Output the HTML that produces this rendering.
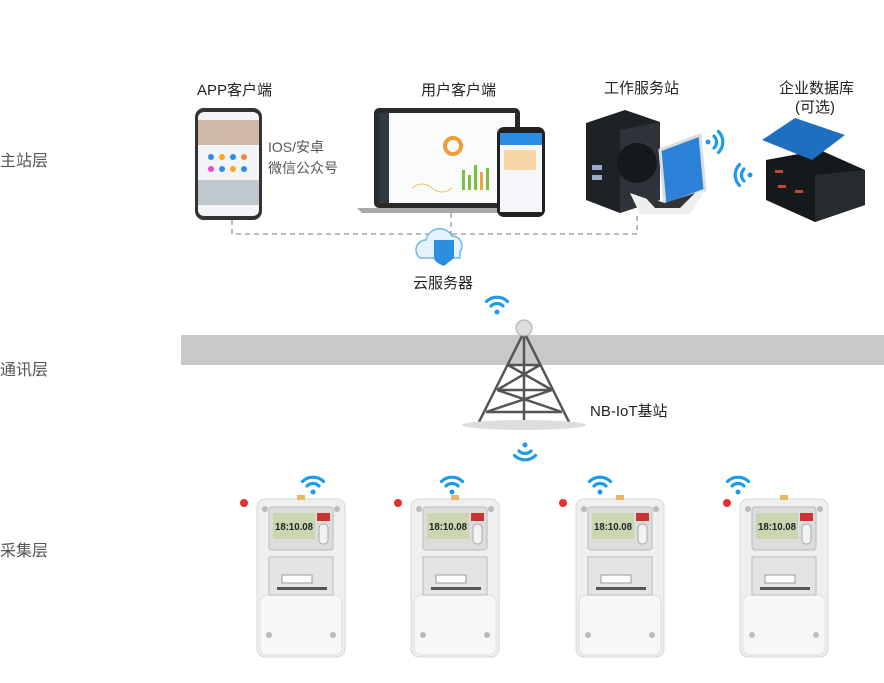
<!DOCTYPE html>
<html><head><meta charset="utf-8"><style>
body{margin:0;background:#fff;width:884px;height:683px;overflow:hidden;font-family:"Liberation Sans","Noto Sans CJK SC",sans-serif}
.t{position:absolute;font-size:15px;color:#222;white-space:nowrap}
.g{position:absolute;font-size:16px;color:#555;white-space:nowrap}
</style></head><body>
<svg width="884" height="683" style="position:absolute;left:0;top:0">
<defs>
<g id="wifi" fill="none" stroke="#1e9be8" stroke-width="3.2" stroke-linecap="round">
<circle cx="0" cy="0" r="2.5" fill="#1e9be8" stroke="none"/>
<path d="M-6,-6 A8.5,8.5 0 0 1 6,-6"/>
<path d="M-10.5,-10.5 A15,15 0 0 1 10.5,-10.5"/>
</g>
<g id="meter">
<rect x="0" y="4" width="88" height="158" rx="8" fill="#eef0f0" stroke="#d5d8d8"/>
<rect x="3" y="100" width="82" height="60" rx="7" fill="#f6f7f7" stroke="#dfe1e1"/>
<circle cx="-13" cy="8" r="4" fill="#e53030"/>
<circle cx="8" cy="14" r="3" fill="#bbb"/><circle cx="80" cy="14" r="3" fill="#bbb"/>
<rect x="40" y="0" width="8" height="5" fill="#e8b860"/>
<rect x="12" y="12" width="64" height="43" rx="3" fill="#dcdcdc" stroke="#bbb"/>
<rect x="16" y="18" width="42" height="26" fill="#c9d6b0"/>
<text x="18" y="35" font-family="Liberation Sans" font-size="10" font-weight="bold" fill="#222" textLength="38" lengthAdjust="spacingAndGlyphs">18:10.08</text>
<rect x="60" y="18" width="13" height="8" fill="#c33"/>
<rect x="62" y="29" width="9" height="20" rx="4" fill="#f2f2f2" stroke="#aaa"/>
<rect x="12" y="62" width="64" height="38" fill="#e3e5e5" stroke="#bbb"/>
<rect x="25" y="80" width="30" height="8" fill="#fff" stroke="#999"/>
<rect x="20" y="92" width="50" height="3" fill="#555"/>
<circle cx="12" cy="140" r="3" fill="#bbb"/><circle cx="76" cy="140" r="3" fill="#bbb"/>
</g>
</defs>
<rect x="181" y="335" width="703" height="30" fill="#c9c9c9"/>
<g stroke="#777" stroke-width="1" stroke-dasharray="5,4" fill="none">
<path d="M232,220 V234 H637 V213"/>
<path d="M451,213 V234"/>
</g>
<rect x="195" y="108" width="67" height="112" rx="9" fill="#333"/>
<rect x="198" y="112" width="61" height="104" rx="6" fill="#f2f4f7"/>
<rect x="198" y="120" width="61" height="25" fill="#cdb9a5"/>
<rect x="198" y="180" width="61" height="25" fill="#bfc7cf"/>
<g fill="#2b8fe8"><circle cx="211" cy="157" r="3"/><circle cx="222" cy="157" r="3" fill="#f5a623"/><circle cx="233" cy="157" r="3"/><circle cx="244" cy="157" r="3" fill="#e84"/><circle cx="211" cy="169" r="3" fill="#e4c"/><circle cx="222" cy="169" r="3"/><circle cx="233" cy="169" r="3" fill="#f5a623"/><circle cx="244" cy="169" r="3"/></g>
<rect x="374" y="108" width="146" height="100" rx="5" fill="#2a2a2a"/>
<rect x="379" y="113" width="136" height="90" fill="#fafbfc"/>
<rect x="379" y="113" width="10" height="90" fill="#2f3844"/>
<circle cx="453" cy="146" r="8" fill="none" stroke="#f39a3a" stroke-width="4"/>
<path d="M412,188 q10,-8 20,0 t20,0" stroke="#f2c14e" fill="none"/>
<g fill="#7bc043"><rect x="462" y="170" width="3" height="20"/><rect x="468" y="175" width="3" height="15"/><rect x="474" y="165" width="3" height="25"/><rect x="480" y="172" width="3" height="18" fill="#f2a23a"/><rect x="486" y="168" width="3" height="22"/></g>
<path d="M357,208 H525 L520,213 H362 Z" fill="#aaa"/>
<rect x="497" y="127" width="48" height="90" rx="7" fill="#222"/>
<rect x="500" y="133" width="42" height="79" fill="#f5f7fa"/>
<rect x="500" y="133" width="42" height="12" fill="#2a8ee6"/>
<rect x="504" y="150" width="32" height="20" fill="#f7d7a8"/>
<path d="M586,123 L625,110 L660,122 L660,200 L620,213 L586,200 Z" fill="#1d2226"/>
<path d="M620,130 L660,122 L660,200 L620,213 Z" fill="#2d3338"/>
<circle cx="637" cy="163" r="20" fill="#15191c"/>
<rect x="592" y="165" width="10" height="5" fill="#9ac"/><rect x="592" y="175" width="10" height="5" fill="#9ac"/>
<path d="M660,150 L700,135 L705,190 L665,205 Z" fill="#2b82d8" stroke="#ddd" stroke-width="3"/>
<path d="M630,193 L665,205 L705,190 L690,214 L640,214 Z" fill="#eee"/>
<path d="M645,197 L665,203 L695,193 L680,208 L655,208 Z" fill="#333"/>
<g transform="translate(708,142) rotate(90)"><use href="#wifi"/></g>
<g transform="translate(750,175) rotate(-90)"><use href="#wifi"/></g>
<path d="M766,160 L820,150 L865,170 L865,205 L815,222 L766,200 Z" fill="#15191c"/>
<path d="M815,175 L865,170 L865,205 L815,222 Z" fill="#262b2f"/>
<g fill="#c8492f"><rect x="775" y="170" width="8" height="3"/><rect x="778" y="185" width="8" height="3"/><rect x="795" y="190" width="8" height="3"/></g>
<path d="M762,140 L795,118 L845,135 L812,160 Z" fill="#1f6fc0"/>
<path d="M420,258 a10,10 0 0 1 6,-18 a14,14 0 0 1 26,-4 a10,10 0 0 1 8,16 v6 Z" fill="#e6f3fc" stroke="#6cb8ea" stroke-width="1.5"/>
<path d="M434,240 h20 v18 q-10,8 -10,8 q-10,-4 -10,-8 Z" fill="#2b8fe0"/>
<g stroke="#555" stroke-width="2.5" fill="none">
<path d="M524,332 L478,424 M524,332 L570,424 M524,332 L524,424"/>
<path d="M508,365 H540 M497,390 H552 M486,412 H562 M508,365 L552,390 M540,365 L497,390 M497,390 L562,412 M552,390 L486,412"/>
</g>
<ellipse cx="524" cy="425" rx="62" ry="5" fill="#ddd"/>
<circle cx="524" cy="328" r="8" fill="#ddd" stroke="#aaa"/>
<use href="#wifi" x="497" y="312"/>
<g transform="translate(525,445) rotate(180)"><use href="#wifi"/></g>
<use href="#meter" x="257" y="495"/>
<use href="#meter" x="411" y="495"/>
<use href="#meter" x="576" y="495"/>
<use href="#meter" x="740" y="495"/>
<use href="#wifi" x="313" y="492"/>
<use href="#wifi" x="452" y="492"/>
<use href="#wifi" x="600" y="492"/>
<use href="#wifi" x="738" y="492"/>
</svg>
<div class="g" style="left:0;top:147px">主站层</div>
<div class="g" style="left:0;top:356px">通讯层</div>
<div class="g" style="left:0;top:537px">采集层</div>
<div class="t" style="left:197px;top:79px">APP客户端</div>
<div class="t" style="left:421px;top:79px">用户客户端</div>
<div class="t" style="left:604px;top:77px">工作服务站</div>
<div class="t" style="left:779px;top:77px">企业数据库</div>
<div class="t" style="left:795px;top:96px">(可选)</div>
<div class="t" style="left:268px;top:137px;color:#555;font-size:14px">IOS/安卓</div>
<div class="t" style="left:268px;top:158px;color:#555;font-size:14px">微信公众号</div>
<div class="t" style="left:413px;top:272px">云服务器</div>
<div class="t" style="left:590px;top:400px">NB-IoT基站</div>
</body></html>
